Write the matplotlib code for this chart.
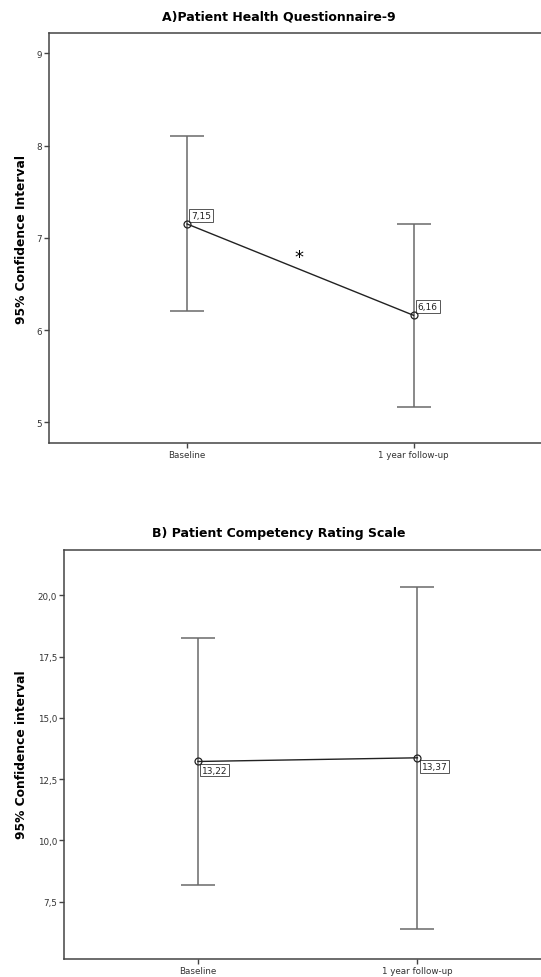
import numpy as np
import matplotlib.pyplot as plt
from matplotlib.ticker import FuncFormatter

# data
groups = ['Baseline', '1 year follow-up']

phq_mean = [7.15, 6.16]
phq_low = [6.21, 5.17]
phq_high = [8.10, 7.15]
phq_labels = ['7,15', '6,16']

pcrs_mean = [13.22, 13.37]
pcrs_low = [8.18, 6.38]
pcrs_high = [18.26, 20.33]
pcrs_labels = ['13,22', '13,37']

plt.rcParams['font.family'] = ['DejaVu Sans']

W, H = 541, 978
fig = plt.figure(figsize=(W / 100, H / 100), dpi=100)
# axes placed in pixel terms to line up with the reference
ax1 = fig.add_axes([49 / W, 1 - 444 / H, (W - 49) / W, (444 - 34) / H])
ax2 = fig.add_axes([64 / W, 1 - 960 / H, (W - 64) / W, (960 - 551) / H])

bar_col = '#6a6a6a'
spine_col = '#444444'


def draw_panel(ax, mean, low, high, labels, ylim, yticks, fmt, label_pos):
    x = np.arange(len(groups))
    mean = np.array(mean)
    err = [mean - np.array(low), np.array(high) - mean]
    ax.errorbar(x, mean, yerr=err, fmt='none', ecolor=bar_col, elinewidth=1.1,
                capsize=12, capthick=1.1, zorder=2)
    ax.plot(x, mean, color='#222222', lw=1.0, zorder=3)
    ax.plot(x, mean, 'o', ms=5, mfc='none', mec='#222222', mew=0.9, zorder=4)
    dx, dy, va = label_pos
    for xi, yi, lab in zip(x, mean, labels):
        ax.annotate(lab, (xi, yi), xytext=(dx, dy), textcoords='offset points',
                    fontsize=6.5, ha='left', va=va, color='#222222',
                    bbox=dict(boxstyle='square,pad=0.2', fc='white', ec='#555555', lw=0.7))
    ax.set_xlim(-0.61, 1.563)
    ax.set_ylim(*ylim)
    ax.set_yticks(yticks)
    ax.yaxis.set_major_formatter(FuncFormatter(fmt))
    ax.set_xticks(x)
    ax.set_xticklabels(groups)
    ax.tick_params(axis='both', labelsize=6.3, length=3.5, width=1, color=spine_col,
                   labelcolor='#333333', pad=1.5)
    for s in ['left', 'bottom', 'top']:
        ax.spines[s].set_color(spine_col)
        ax.spines[s].set_linewidth(1.1)
    ax.spines['right'].set_visible(False)


draw_panel(ax1, phq_mean, phq_low, phq_high, phq_labels,
           (4.776, 9.22), [5, 6, 7, 8, 9], lambda v, p: f'{v:.0f}', (3, 3, 'bottom'))
ax1.text(0.495, 6.79, '*', fontsize=13, ha='center', va='center')

draw_panel(ax2, pcrs_mean, pcrs_low, pcrs_high, pcrs_labels,
           (5.16, 21.85), [7.5, 10, 12.5, 15, 17.5, 20],
           lambda v, p: f'{v:.1f}'.replace('.', ','), (3, -3, 'top'))

# titles and axis labels
fig.text(279 / W, 1 - 17 / H, 'A)Patient Health Questionnaire-9', fontsize=9,
         fontweight='bold', ha='center', va='center')
fig.text(279 / W, 1 - 534 / H, 'B) Patient Competency Rating Scale', fontsize=9,
         fontweight='bold', ha='center', va='center')
fig.text(22 / W, 1 - 239 / H, '95% Confidence Interval', fontsize=8.8,
         fontweight='bold', rotation=90, ha='center', va='center')
fig.text(22 / W, 1 - 755 / H, '95% Confidence interval', fontsize=8.8,
         fontweight='bold', rotation=90, ha='center', va='center')

fig.savefig('out.png', dpi=100)
